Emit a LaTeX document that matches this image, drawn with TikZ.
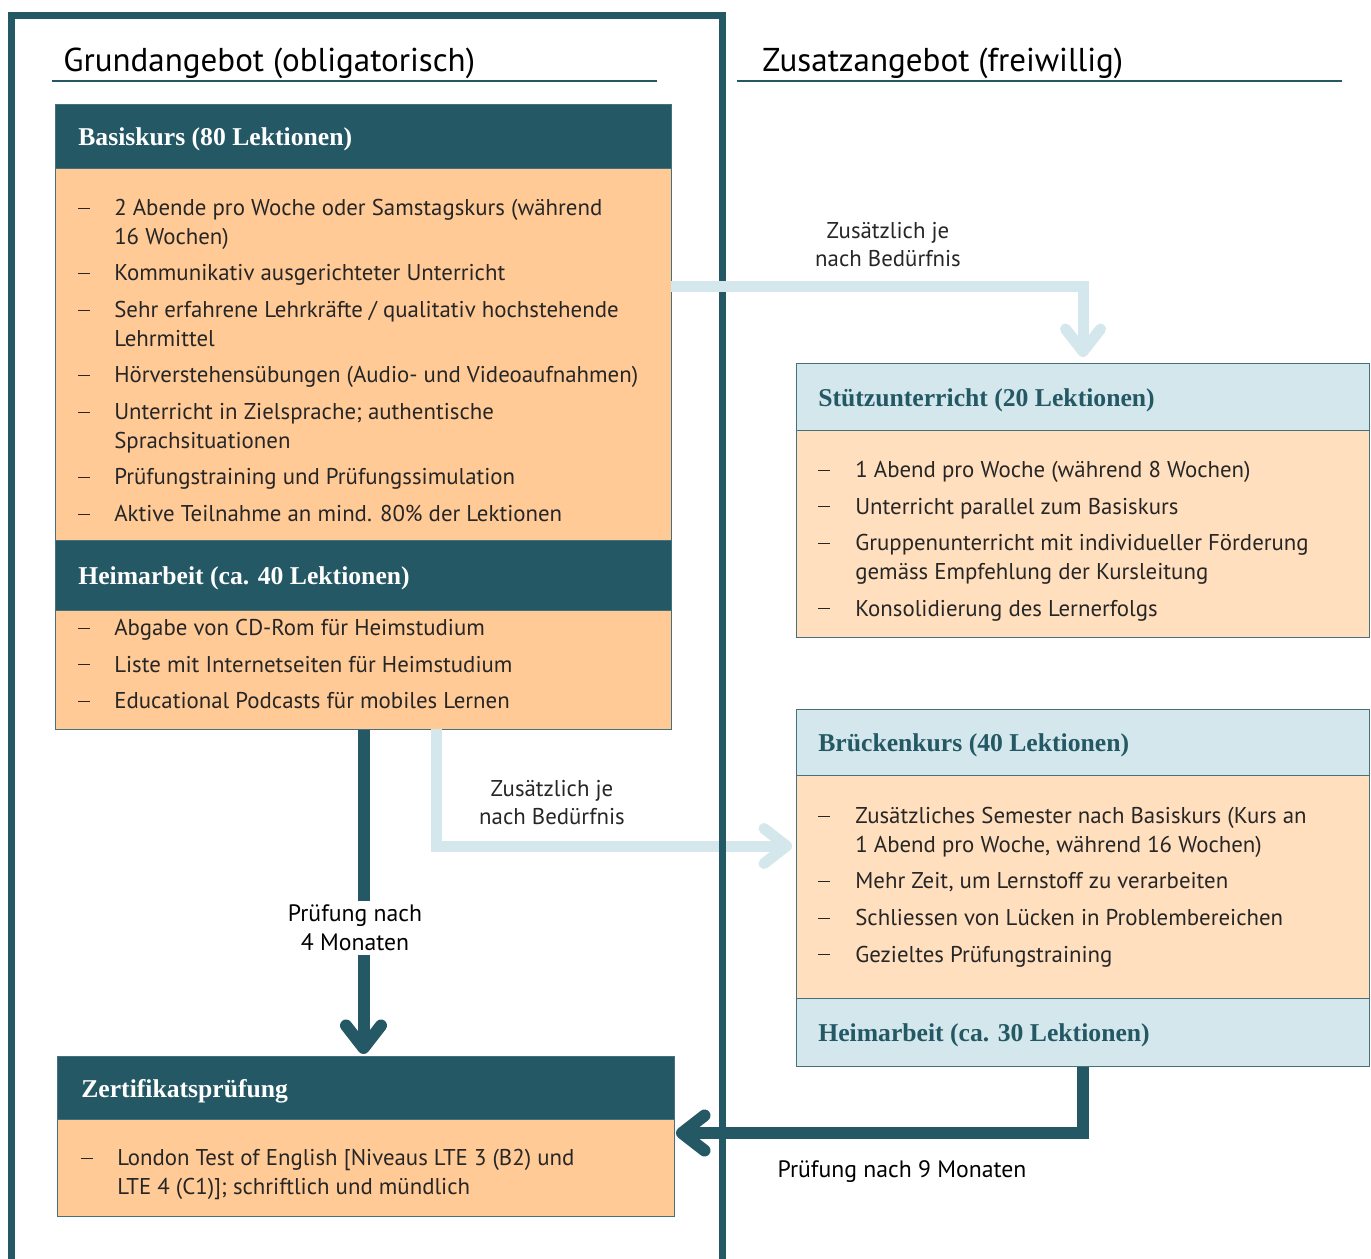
\documentclass[tikz,border=0pt]{standalone}
\usepackage{fontspec}
\setmainfont{PT Sans}
\newfontfamily\slabfont{Liberation Serif}
\usetikzlibrary{arrows.meta,positioning}
\definecolor{petrol}{RGB}{35,88,100}
\definecolor{apricot}{RGB}{255,202,150}
\definecolor{peach}{RGB}{255,223,190}
\definecolor{iceblue}{RGB}{211,231,236}
\definecolor{inkgray}{RGB}{38,38,38}
\newcommand{\listfont}{\fontsize{13}{16.4}\selectfont}
\newcommand{\headfont}{\slabfont\bfseries\fontsize{14.6}{16}\selectfont}
\newcommand{\dsh}{\hspace*{-3pt}\rule[0.3em]{6.6pt}{0.5pt}}
\tikzset{
  box/.style={draw=petrol!85, line width=0.6pt, anchor=north west, inner sep=0pt},
  darkhead/.style={box, fill=petrol},
  lighthead/.style={box, fill=iceblue},
  darkbody/.style={box, fill=apricot},
  lightbody/.style={box, fill=peach},
  headtext/.style={anchor=west, inner sep=0pt, yshift=-0.6mm, font=\headfont},
  listtext/.style={anchor=north west, inner sep=0pt, text=inkgray, font=\listfont},
  notetext/.style={align=center, inner sep=0pt, text=inkgray, font=\fontsize{13}{15.9}\selectfont},
  examtext/.style={align=center, inner sep=2.5pt, text=black, font=\fontsize{13.5}{16.5}\selectfont},
  softarrow/.style={draw=iceblue, line width=2.2mm, -{Straight Barb[length=4.5mm, width=7mm, round]}},
  hardarrow/.style={draw=petrol, line width=2.4mm, -{Straight Barb[length=4.5mm, width=7mm, round]}}
}
\begin{document}
\begin{tikzpicture}[x=0.2mm, y=-0.2mm]
  \useasboundingbox (0,0) rectangle (1371,1259);

  % titles
  \node[anchor=base west, inner sep=0pt, font=\fontsize{18.8}{22}\selectfont] (grundtitle) at (63,72) {Grundangebot (obligatorisch)};
  \node[anchor=base west, inner sep=0pt, font=\fontsize{18.8}{22}\selectfont] (zusatztitle) at (762,72) {Zusatzangebot (freiwillig)};
  \draw[petrol, line width=0.8pt] (52,81) -- (657,81);
  \draw[petrol, line width=0.8pt] (737,81) -- (1342,81);

  % Grundangebot
  \node[darkhead, minimum width=123.2mm, minimum height=12.8mm] (basishead) at (55,104) {};
  \node[darkbody, minimum width=123.2mm, minimum height=74.4mm] (basisbody) at (55,168) {};
  \node[darkhead, minimum width=123.2mm, minimum height=14mm] (heimhead) at (55,540) {};
  \node[darkbody, minimum width=123.2mm, minimum height=23.8mm] (heimbody) at (55,610) {};
  \node[darkhead, minimum width=123.4mm, minimum height=12.6mm] (zertihead) at (57,1056) {};
  \node[darkbody, minimum width=123.4mm, minimum height=19.4mm] (zertibody) at (57,1119) {};

  \node[headtext, text=white, right=4.6mm of basishead.west] (basislabel) {Basiskurs (80 Lektionen)};
  \node[headtext, text=white, right=4.6mm of heimhead.west] (heimlabel) {Heimarbeit (ca. 40 Lektionen)};
  \node[headtext, text=white, right=4.8mm of zertihead.west] (zertilabel) {Zertifikatsprüfung};

  \node[listtext] (basislist) at (83,195) {%
    \begin{tabular}{@{}p{17.6pt}@{}l@{}}
      \dsh & 2 Abende pro Woche oder Samstagskurs (während\\
           & 16 Wochen)\\[4.4pt]
      \dsh & Kommunikativ ausgerichteter Unterricht\\[4.4pt]
      \dsh & Sehr erfahrene Lehrkräfte / qualitativ hochstehende\\
           & Lehrmittel\\[4.4pt]
      \dsh & Hörverstehensübungen (Audio- und Videoaufnahmen)\\[4.4pt]
      \dsh & Unterricht in Zielsprache; authentische\\
           & Sprachsituationen\\[4.4pt]
      \dsh & Prüfungstraining und Prüfungssimulation\\[4.4pt]
      \dsh & Aktive Teilnahme an mind. 80\% der Lektionen
    \end{tabular}};
  \node[listtext] (heimlist) at (83,615) {%
    \begin{tabular}{@{}p{17.6pt}@{}l@{}}
      \dsh & Abgabe von CD-Rom für Heimstudium\\[4.4pt]
      \dsh & Liste mit Internetseiten für Heimstudium\\[4.4pt]
      \dsh & Educational Podcasts für mobiles Lernen
    \end{tabular}};
  \node[listtext] (zertilist) at (86,1145) {%
    \begin{tabular}{@{}p{17.6pt}@{}l@{}}
      \dsh & London Test of English [Niveaus LTE 3 (B2) und\\
           & LTE 4 (C1)]; schriftlich und mündlich
    \end{tabular}};

  % Zusatzangebot
  \node[lighthead, minimum width=114.6mm, minimum height=13.4mm] (stuetzhead) at (796,363) {};
  \node[lightbody, minimum width=114.6mm, minimum height=41.4mm] (stuetzbody) at (796,430) {};
  \node[lighthead, minimum width=114.6mm, minimum height=13.2mm] (brueckhead) at (796,709) {};
  \node[lightbody, minimum width=114.6mm, minimum height=44.6mm] (brueckbody) at (796,775) {};
  \node[lighthead, minimum width=114.6mm, minimum height=13.6mm] (brueckheim) at (796,998) {};

  \node[headtext, text=petrol, right=4.4mm of stuetzhead.west] (stuetzlabel) {Stützunterricht (20 Lektionen)};
  \node[headtext, text=petrol, right=4.4mm of brueckhead.west] (brucklabel) {Brückenkurs (40 Lektionen)};
  \node[headtext, text=petrol, right=4.4mm of brueckheim.west] (bheimlabel) {Heimarbeit (ca. 30 Lektionen)};

  \node[listtext] (stuetzlist) at (823,457) {%
    \begin{tabular}{@{}p{18.2pt}@{}l@{}}
      \dsh & 1 Abend pro Woche (während 8 Wochen)\\[4.4pt]
      \dsh & Unterricht parallel zum Basiskurs\\[4.4pt]
      \dsh & Gruppenunterricht mit individueller Förderung\\
           & gemäss Empfehlung der Kursleitung\\[4.4pt]
      \dsh & Konsolidierung des Lernerfolgs
    \end{tabular}};
  \node[listtext] (brucklist) at (823,803) {%
    \begin{tabular}{@{}p{18.2pt}@{}l@{}}
      \dsh & Zusätzliches Semester nach Basiskurs (Kurs an\\
           & 1 Abend pro Woche, während 16 Wochen)\\[4.4pt]
      \dsh & Mehr Zeit, um Lernstoff zu verarbeiten\\[4.4pt]
      \dsh & Schliessen von Lücken in Problembereichen\\[4.4pt]
      \dsh & Gezieltes Prüfungstraining
    \end{tabular}};

  % connectors
  \coordinate (basisout) at (671,287);
  \coordinate (heimout) at (436,729);
  \coordinate (brueckin) at (796,846);
  \coordinate (zertiin) at (674,1133);

  \draw[softarrow, shorten >=0.8mm] (heimout) |- (brueckin);
  \draw[petrol, line width=1.4mm] (11,1262) -- (11,16) -- (722,16) -- (722,1262);
  \draw[softarrow, shorten >=1.2mm] (basisout) -| (stuetzhead.north);
  \draw[hardarrow, shorten >=0.4mm] (heimbody.south) -- (heimbody.south |- zertihead.north);
  \draw[hardarrow, shorten >=0.4mm] (brueckheim.south) |- (zertiin);

  \node[notetext] (note1) at (888,245) {Zusätzlich je\\nach Bedürfnis};
  \node[notetext] (note2) at (552,803) {Zusätzlich je\\nach Bedürfnis};
  \node[examtext, fill=white] (exam1) at (355,928) {Prüfung nach\\4 Monaten};
  \node[examtext] (exam2) at (902,1172) {Prüfung nach 9 Monaten};
\end{tikzpicture}
\end{document}
